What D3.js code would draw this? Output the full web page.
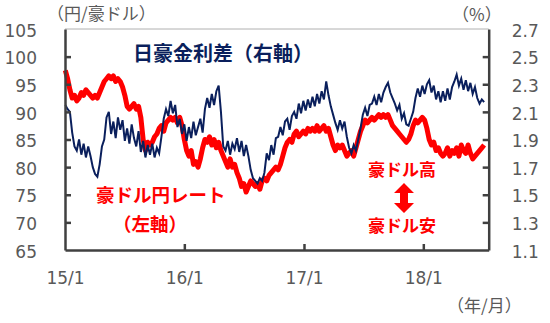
<!DOCTYPE html>
<html><head><meta charset="utf-8">
<script src="https://cdn.jsdelivr.net/npm/d3@7"></script>
<style>
body{margin:0;background:#fff;}
svg{display:block;}
</style></head>
<body>
<svg id="c" width="550" height="323"></svg>
<script>
// ---- data ----
const startDate = "2015-01-02"; // weekly observations
const audjpy = [
97.5,96,94,92.5,93,92,92.5,93.5,93,94,93.5,93,92.5,93,92.5,93.5,94.5,95.5,96,96.5,
96,96.5,95.5,96,95.5,94.5,93,91,90.5,91,91.5,90.5,91,89,85,83,84.5,84,84.5,85.5,
86,87,87.5,86.5,88,88.5,89,88.5,89,88,89,87.5,85,83,82,83,80.5,81,80,81.5,
83.5,85,84.5,85.5,84,85,83.5,84.5,83,82,81,80,81.5,80,80.5,79,78,76.5,77,75.5,
76.5,77.5,77,76.5,77,76,77.5,78,77.5,78.5,79,79.5,80,79.5,80.5,82,83.5,84.5,85,84.5,
86,86.5,85.5,86,86.5,86,87,86.5,87,86.5,87.5,86.5,87,87.5,86.5,87,85.5,84,83,84,
83.5,84,83,82,82.5,83,82,83.5,85,86.5,87.5,88.5,88,88.5,89,88.5,89,89.5,89,89.5,
89,89.5,88.5,87.5,87,86.5,86,85.5,85,84.5,85,86,87.5,88.5,88,88.5,89,88.5,87,85,
84,84.5,83,83.5,82.5,82,82.5,83.5,82,83,82.5,83.5,82,84,83,82.5,84,82.5,81.5,82,
82.5,83,83.5,84
];
const spread = [
2.15,2.12,2.10,1.95,1.85,1.82,1.90,1.79,1.87,1.77,1.85,1.78,1.70,1.65,1.63,1.72,1.85,1.90,2.06,2.10,
1.94,2.03,1.91,2.06,1.97,2.04,1.89,1.98,1.87,2.01,1.91,1.85,1.96,1.81,1.89,1.77,1.86,1.79,1.87,1.77,
1.84,1.80,1.92,2.05,2.12,2.07,2.18,2.09,2.15,1.99,2.05,1.94,2.01,1.89,1.99,1.91,2.03,1.93,1.99,2.05,
1.95,2.12,2.20,2.13,2.23,2.15,2.25,2.29,2.10,1.85,1.82,1.89,1.79,1.87,1.83,1.91,1.81,1.89,1.78,1.86,
1.78,1.68,1.62,1.60,1.58,1.62,1.60,1.66,1.80,1.75,1.86,1.79,1.91,1.92,1.99,1.93,2.03,2.05,1.97,2.07,
2.10,2.05,2.16,2.09,2.18,2.11,2.19,2.13,2.21,2.14,2.23,2.16,2.25,2.19,2.32,2.22,2.14,2.08,2.02,1.97,
2.04,1.98,2.03,1.92,1.84,1.80,1.86,1.82,1.90,1.98,2.08,2.13,2.07,2.15,2.16,2.21,2.15,2.23,2.17,2.24,
2.28,2.31,2.24,2.20,2.16,2.11,2.15,2.05,2.09,2.01,2.00,2.05,2.10,2.20,2.27,2.21,2.29,2.23,2.30,2.33,
2.24,2.29,2.19,2.25,2.17,2.25,2.18,2.27,2.19,2.28,2.32,2.37,2.29,2.34,2.26,2.33,2.25,2.31,2.23,2.28,
2.20,2.16,2.19,2.17,2.22
];
const leftTicks = [65,70,75,80,85,90,95,100,105];
const rightTicks = [1.1,1.3,1.5,1.7,1.9,2.1,2.3,2.5,2.7];
const xTickDates = ["2015-01-01","2016-01-01","2017-01-01","2018-01-01"];
const xTickLabels = ["15/1","16/1","17/1","18/1"];
const xDomain = ["2015-01-01","2018-07-20"];

// ---- layout ----
const L = 65, R = 488.7, T = 29, B = 250;
const svg = d3.select("#c");
const parse = d3.timeParse("%Y-%m-%d");
const t0 = parse(startDate);
const dates = audjpy.map((_, i) => d3.timeWeek.offset(t0, i));

const x = d3.scaleTime().domain(xDomain.map(parse)).range([L, R]);
const yL = d3.scaleLinear().domain([65, 105]).range([B, T]);
const yR = d3.scaleLinear().domain([1.1, 2.7]).range([B, T]);

const gray = "#595959";
const tickFont = "DejaVu Sans, Verdana, sans-serif";
const jp = "'Noto Sans CJK JP', sans-serif";

// top frame line
svg.append("line").attr("x1", L).attr("x2", R).attr("y1", T).attr("y2", T)
  .attr("stroke", "#b0b0b0").attr("stroke-width", 1);

// lines
const lineRed = d3.line().x((d, i) => x(dates[i])).y(d => yL(d)).curve(d3.curveLinear);
const lineBlue = d3.line().x((d, i) => x(dates[i])).y(d => yR(d)).curve(d3.curveLinear);

svg.append("path").datum(audjpy).attr("d", lineRed)
  .attr("fill", "none").attr("stroke", "#ff0000").attr("stroke-width", 5)
  .attr("stroke-linejoin", "round");
svg.append("path").datum(spread).attr("d", lineBlue)
  .attr("fill", "none").attr("stroke", "#0a1f5c").attr("stroke-width", 2)
  .attr("stroke-linejoin", "miter");

// axes
function styleAxis(g) {
  g.select(".domain").attr("stroke", "#404040").attr("stroke-width", 2.5);
  g.selectAll(".tick line").attr("stroke", "#404040").attr("stroke-width", 2.5);
  g.selectAll("text").attr("fill", gray).style("font-family", tickFont).style("font-size", "17px");
}
const axL = svg.append("g").attr("transform", `translate(${L},0)`)
  .call(d3.axisLeft(yL).tickValues(leftTicks).tickSize(-6).tickSizeOuter(0).tickPadding(28).tickFormat(d3.format("d")));
styleAxis(axL);
axL.selectAll(".tick").filter(d => d === 65 || d === 105).select("line").remove();

const axR = svg.append("g").attr("transform", `translate(${R},0)`)
  .call(d3.axisRight(yR).tickValues(rightTicks).tickSize(-6).tickSizeOuter(0).tickPadding(23).tickFormat(d3.format(".1f")));
styleAxis(axR);
axR.selectAll(".tick").filter(d => Math.abs(d - 1.1) < 1e-9 || Math.abs(d - 2.7) < 1e-9).select("line").remove();

const axB = svg.append("g").attr("transform", `translate(0,${B})`)
  .call(d3.axisBottom(x).tickValues(xTickDates.map(parse)).tickSize(-6).tickSizeOuter(0)
    .tickFormat((d, i) => xTickLabels[i]));
styleAxis(axB);
axB.selectAll(".tick text").attr("y", 28).attr("dy", "0.35em");
axB.selectAll(".tick").filter((d, i) => i === 0).select("line").remove();
axL.selectAll(".tick text").attr("dy", "0.42em");
axR.selectAll(".tick text").attr("dy", "0.42em");

// unit labels
svg.append("text").attr("x", 47).attr("y", 14).attr("dy", "0.35em")
  .attr("fill", gray).style("font-family", jp).style("font-size", "17px").text("（円/豪ドル）");
svg.append("text").attr("x", 452).attr("y", 15).attr("dy", "0.35em")
  .attr("fill", gray).style("font-family", jp).style("font-size", "17px").text("（%）");
svg.append("text").attr("x", 447).attr("y", 306).attr("dy", "0.35em")
  .attr("fill", gray).style("font-family", jp).style("font-size", "17px").text("（年/月）");

// annotations
svg.append("text").attr("x", 133).attr("y", 54).attr("dy", "0.35em")
  .attr("fill", "#0a1f5c").style("font-family", jp).style("font-weight", "bold").style("font-size", "20px")
  .text("日豪金利差（右軸）");
svg.append("text").attr("x", 96).attr("y", 196).attr("dy", "0.35em")
  .attr("fill", "#ff0000").style("font-family", jp).style("font-weight", "bold").style("font-size", "18.5px")
  .text("豪ドル円レート");
svg.append("text").attr("x", 113).attr("y", 225).attr("dy", "0.35em")
  .attr("fill", "#ff0000").style("font-family", jp).style("font-weight", "bold").style("font-size", "18.5px")
  .text("（左軸）");
svg.append("text").attr("x", 402).attr("y", 170).attr("dy", "0.35em").attr("text-anchor", "middle")
  .attr("fill", "#ff0000").style("font-family", jp).style("font-weight", "bold").style("font-size", "17px")
  .text("豪ドル高");
svg.append("text").attr("x", 402).attr("y", 226).attr("dy", "0.35em").attr("text-anchor", "middle")
  .attr("fill", "#ff0000").style("font-family", jp).style("font-weight", "bold").style("font-size", "17px")
  .text("豪ドル安");
// double arrow
const ax = 404, ay1 = 183, ay2 = 213, hw = 10, sw = 4, hh = 10;
svg.append("path")
  .attr("d", `M${ax},${ay1} L${ax+hw},${ay1+hh} L${ax+sw},${ay1+hh} L${ax+sw},${ay2-hh} L${ax+hw},${ay2-hh} L${ax},${ay2} L${ax-hw},${ay2-hh} L${ax-sw},${ay2-hh} L${ax-sw},${ay1+hh} L${ax-hw},${ay1+hh} Z`)
  .attr("fill", "#ff0000");
</script>
</body></html>
